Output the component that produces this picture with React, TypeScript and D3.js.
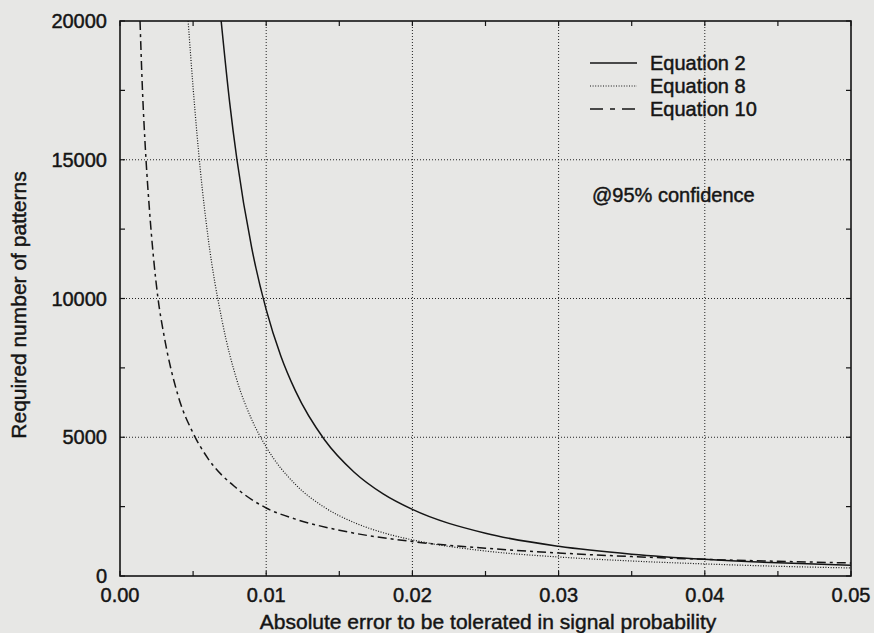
import { useEffect, useRef } from "react";
import * as d3 from "d3";

// tick values
const xTicks = [0, 0.01, 0.02, 0.03, 0.04, 0.05];
const xMinorTicks = [0.005, 0.015, 0.025, 0.035, 0.045];
const yTicks = [0, 5000, 10000, 15000, 20000];
const yMinorTicks = [2500, 7500, 12500, 17500];

// Equation 2 (solid)
const eq2Error = [0.00692, 0.0075, 0.008, 0.009, 0.01, 0.011, 0.012, 0.014, 0.016, 0.018, 0.02, 0.025, 0.03, 0.035, 0.04, 0.045, 0.05];
const eq2Patterns = [20000, 17070, 15000, 11850, 9600, 7930, 6670, 4900, 3750, 2960, 2400, 1540, 1070, 785, 600, 475, 385];

// Equation 8 (dotted)
const eq8Error = [0.00466, 0.005, 0.0055, 0.006, 0.007, 0.008, 0.009, 0.01, 0.012, 0.014, 0.016, 0.018, 0.02, 0.025, 0.03, 0.035, 0.04, 0.045, 0.05];
const eq8Patterns = [20000, 17600, 14600, 12300, 9150, 7050, 5650, 4650, 3300, 2470, 1930, 1560, 1300, 900, 685, 540, 435, 350, 290];

// Equation 10 (dash-dot)
const eq10Error = [0.00137, 0.0015, 0.00178, 0.002, 0.0026, 0.003, 0.004, 0.005, 0.006, 0.008, 0.01, 0.012, 0.015, 0.02, 0.025, 0.03, 0.035, 0.04, 0.045, 0.05];
const eq10Patterns = [20000, 18000, 15000, 13300, 10000, 8700, 6450, 5150, 4250, 3150, 2450, 2050, 1650, 1240, 1000, 830, 700, 600, 530, 470];

const legendLabels = ["Equation 2", "Equation 8", "Equation 10"];
const dashes = [null, "1,1.6", "9,4,3,4"];

const W = 874;
const H = 633;
const ink = "#151515";
const font = "'Liberation Sans', Arial, sans-serif";

export default function App() {
  const svgRef = useRef<SVGSVGElement>(null);

  useEffect(() => {
    if (!svgRef.current) return;
    const svg = d3.select(svgRef.current);
    svg.selectAll("*").remove();

    const left = 120, right = 851, top = 21, bottom = 576;

    const x = d3.scaleLinear().domain([0, 0.05]).range([left, right]);
    const y = d3.scaleLinear().domain([0, 20000]).range([bottom, top]);

    svg.append("rect").attr("width", W).attr("height", H).attr("fill", "#e7e7e5");

    svg
      .append("clipPath")
      .attr("id", "plot-clip")
      .append("rect")
      .attr("x", left)
      .attr("y", top)
      .attr("width", right - left)
      .attr("height", bottom - top);

    // grid
    const grid = svg.append("g").attr("stroke", "#222").attr("stroke-width", 1).attr("stroke-dasharray", "1,2");
    xTicks.slice(1, -1).forEach((t) => {
      grid.append("line").attr("x1", x(t)).attr("x2", x(t)).attr("y1", top).attr("y2", bottom);
    });
    yTicks.slice(1, -1).forEach((t) => {
      grid.append("line").attr("x1", left).attr("x2", right).attr("y1", y(t)).attr("y2", y(t));
    });

    // inward ticks on all sides
    const ticks = svg.append("g").attr("stroke", ink).attr("stroke-width", 1.2);
    [...xTicks, ...xMinorTicks].forEach((t) => {
      ticks.append("line").attr("x1", x(t)).attr("x2", x(t)).attr("y1", bottom).attr("y2", bottom - 5);
      ticks.append("line").attr("x1", x(t)).attr("x2", x(t)).attr("y1", top).attr("y2", top + 5);
    });
    [...yTicks, ...yMinorTicks].forEach((t) => {
      ticks.append("line").attr("x1", left).attr("x2", left + 5).attr("y1", y(t)).attr("y2", y(t));
      ticks.append("line").attr("x1", right).attr("x2", right - 5).attr("y1", y(t)).attr("y2", y(t));
    });

    // curves
    const series = [
      { e: eq2Error, n: eq2Patterns },
      { e: eq8Error, n: eq8Patterns },
      { e: eq10Error, n: eq10Patterns },
    ];
    const line = d3
      .line<[number, number]>()
      .x((d) => x(d[0]))
      .y((d) => y(d[1]))
      .curve(d3.curveMonotoneX);

    const curves = svg.append("g").attr("clip-path", "url(#plot-clip)");
    series.forEach((s, i) => {
      const pts = s.e.map((e, j) => [e, s.n[j]] as [number, number]);
      const p = curves
        .append("path")
        .datum(pts)
        .attr("fill", "none")
        .attr("stroke", ink)
        .attr("stroke-width", i === 1 ? 1.2 : 1.5)
        .attr("d", line);
      if (dashes[i]) p.attr("stroke-dasharray", dashes[i] as string);
    });

    // frame
    svg
      .append("rect")
      .attr("x", left)
      .attr("y", top)
      .attr("width", right - left)
      .attr("height", bottom - top)
      .attr("fill", "none")
      .attr("stroke", ink)
      .attr("stroke-width", 1.6);

    const txt = svg
      .append("g")
      .attr("fill", ink)
      .attr("stroke", ink)
      .attr("stroke-width", 0.45)
      .style("font-family", font)
      .style("font-size", "20px");

    // tick labels
    xTicks.forEach((t) => {
      txt
        .append("text")
        .attr("x", x(t))
        .attr("y", bottom + 19)
        .attr("dy", "0.35em")
        .attr("text-anchor", "middle")
        .text(d3.format(".2f")(t));
    });
    yTicks.forEach((t) => {
      txt
        .append("text")
        .attr("x", left - 13)
        .attr("y", y(t))
        .attr("dy", "0.35em")
        .attr("text-anchor", "end")
        .text(d3.format("d")(t));
    });

    // axis titles
    txt
      .append("text")
      .attr("x", 488)
      .attr("y", 622)
      .attr("dy", "0.35em")
      .attr("text-anchor", "middle")
      .style("font-size", "21px")
      .text("Absolute error to be tolerated in signal probability");
    txt
      .append("text")
      .attr("transform", `translate(19,305) rotate(-90)`)
      .attr("dy", "0.35em")
      .attr("text-anchor", "middle")
      .style("font-size", "21px")
      .text("Required number of patterns");

    // legend
    legendLabels.forEach((label, i) => {
      const ly = 63 + i * 23;
      const l = svg
        .append("line")
        .attr("x1", 590)
        .attr("x2", 637)
        .attr("y1", ly)
        .attr("y2", ly)
        .attr("stroke", ink)
        .attr("stroke-width", i === 1 ? 1.2 : 1.5);
      if (dashes[i]) l.attr("stroke-dasharray", i === 2 ? "13,7,5,7" : (dashes[i] as string));
      txt.append("text").attr("x", 650).attr("y", ly).attr("dy", "0.35em").text(label);
    });

    txt.append("text").attr("x", 592).attr("y", 195).attr("dy", "0.35em").text("@95% confidence");
  }, []);

  return <svg ref={svgRef} width={W} height={H} style={{ position: "absolute", left: 0, top: 0 }} />;
}
